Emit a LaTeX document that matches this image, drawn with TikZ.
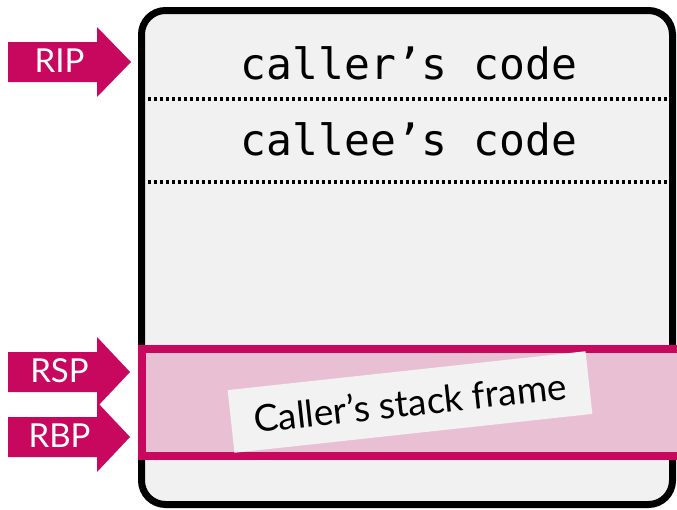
\documentclass[tikz,border=0pt]{standalone}
\usepackage{fontspec}
\setmainfont{Lato}
\newfontfamily\monofnt{DejaVu Sans Mono}
\definecolor{mag}{HTML}{C8085F}
\definecolor{pinkfill}{HTML}{E9C0D3}
\definecolor{boxgray}{HTML}{F1F1F1}
\definecolor{labgray}{HTML}{F2F2F2}
\tikzset{
  ptr/.style={fill=mag},
  ptrtext/.style={text=white,font=\fontsize{33}{33}\selectfont,inner sep=0pt},
  codetext/.style={font=\monofnt\fontsize{43}{43}\selectfont,inner sep=0pt},
  sep/.style={line width=3.2pt,dash pattern=on 3.2pt off 2.8pt},
}
\begin{document}
\begin{tikzpicture}[x=1pt,y=-1pt]
\useasboundingbox (0,0) rectangle (677,509);
% memory box
\draw[line width=7pt,fill=boxgray,rounded corners=24pt] (141.5,10.5) rectangle (672.5,504.5);
% separators
\coordinate (s1l) at (148,99); \coordinate (s1r) at (673,99);
\coordinate (s2l) at (148,182); \coordinate (s2r) at (673,182);
\draw[sep] (s1l) -- (s1r);
\draw[sep] (s2l) -- (s2r);
\node[codetext] (caller) at (409,63) {caller’s code};
\node[codetext] (callee) at (409,139) {callee’s code};
% stack frame band
\draw[line width=8pt,draw=mag,fill=pinkfill] (141.5,348.5) rectangle (690,456);
\node[fill=labgray,rotate=6.2,minimum width=360pt,minimum height=63pt,inner sep=0pt,
      font=\fontsize{37}{37}\selectfont] (frame) at (410,402) {Caller’s stack frame};
% pointer arrows
\fill[ptr] (8,42) -- (97,42) -- (97,27) -- (131,62) -- (97,97) -- (97,82) -- (8,82) -- cycle;
\node[ptrtext] (rip) at (59.5,61) {RIP};
\fill[ptr] (8,352) -- (97,352) -- (97,337) -- (130,372) -- (97,407) -- (97,392) -- (8,392) -- cycle;
\node[ptrtext] (rsp) at (59.5,371) {RSP};
\fill[ptr] (8,417) -- (97,417) -- (97,402) -- (130,437) -- (97,472) -- (97,457) -- (8,457) -- cycle;
\node[ptrtext] (rbp) at (59.5,436) {RBP};
\end{tikzpicture}
\end{document}
